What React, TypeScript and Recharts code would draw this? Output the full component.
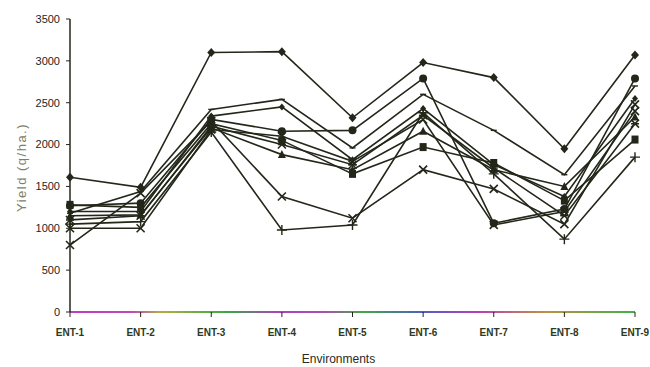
import React from "react";
import { LineChart, Line, XAxis, YAxis, Label } from "recharts";

const categories = ["ENT-1", "ENT-2", "ENT-3", "ENT-4", "ENT-5", "ENT-6", "ENT-7", "ENT-8", "ENT-9"];
const yTicks = [0, 500, 1000, 1500, 2000, 2500, 3000, 3500];

const diamondLine = [1610, 1490, 3100, 3110, 2320, 2980, 2800, 1950, 3070];
const circleLine = [1270, 1300, 2300, 2160, 2170, 2790, 1060, 1230, 2790];
const dashLine = [1180, 1440, 2420, 2540, 1960, 2600, 2170, 1640, 2700];
const smallDiamondLine = [1200, 1200, 2340, 2450, 1820, 2430, 1760, 1380, 2550];
const squareLine = [1280, 1250, 2250, 2050, 1650, 1970, 1780, 1330, 2060];
const triangleLine = [1150, 1160, 2200, 1880, 1700, 2160, 1700, 1500, 2330];
const crossLine = [800, 1420, 2280, 1380, 1120, 1700, 1470, 1050, 2480];
const plusLine = [1050, 1080, 2150, 980, 1040, 2380, 1650, 870, 1850];
const starLine = [1100, 1150, 2220, 2000, 1760, 2350, 1720, 1150, 2250];
const asteriskLine = [1000, 1000, 2180, 2100, 1800, 2300, 1040, 1200, 2400];

const series = [
  { key: "s1", values: diamondLine, shape: "diamond" },
  { key: "s2", values: circleLine, shape: "circle" },
  { key: "s3", values: dashLine, shape: "dash" },
  { key: "s4", values: smallDiamondLine, shape: "smallDiamond" },
  { key: "s5", values: squareLine, shape: "square" },
  { key: "s6", values: triangleLine, shape: "triangle" },
  { key: "s7", values: crossLine, shape: "cross" },
  { key: "s8", values: plusLine, shape: "plus" },
  { key: "s9", values: starLine, shape: "star" },
  { key: "s10", values: asteriskLine, shape: "cross" },
];

const data = categories.map((ent, i) => {
  const row: any = { ent };
  series.forEach((s) => (row[s.key] = s.values[i]));
  return row;
});

const INK = "#232719";

const makeDot = (shape: string) => (props: any) => {
  const { cx, cy, index } = props;
  const k = `${shape}-${index}`;
  if (cx == null || cy == null) return <g key={k} />;
  switch (shape) {
    case "diamond":
      return <path key={k} d={`M${cx},${cy - 4.5}L${cx + 4},${cy}L${cx},${cy + 4.5}L${cx - 4},${cy}Z`} fill={INK} />;
    case "smallDiamond":
      return <path key={k} d={`M${cx},${cy - 3.5}L${cx + 3},${cy}L${cx},${cy + 3.5}L${cx - 3},${cy}Z`} fill={INK} />;
    case "circle":
      return <circle key={k} cx={cx} cy={cy} r={4} fill={INK} />;
    case "square":
      return <rect key={k} x={cx - 3.5} y={cy - 4} width={7} height={8} fill={INK} />;
    case "triangle":
      return <path key={k} d={`M${cx},${cy - 4.5}L${cx + 4},${cy + 3.5}L${cx - 4},${cy + 3.5}Z`} fill={INK} />;
    case "cross":
      return (
        <path key={k} d={`M${cx - 4},${cy - 4}L${cx + 4},${cy + 4}M${cx + 4},${cy - 4}L${cx - 4},${cy + 4}`} stroke={INK} strokeWidth={1.6} />
      );
    case "plus":
      return (
        <path key={k} d={`M${cx - 5},${cy}L${cx + 5},${cy}M${cx},${cy - 5}L${cx},${cy + 5}`} stroke={INK} strokeWidth={1.4} />
      );
    case "star":
      return (
        <path
          key={k}
          d={`M${cx - 4},${cy - 4}L${cx + 4},${cy + 4}M${cx + 4},${cy - 4}L${cx - 4},${cy + 4}M${cx - 4},${cy}L${cx + 4},${cy}`}
          stroke={INK}
          strokeWidth={1.5}
        />
      );
    default:
      return <path key={k} d={`M${cx - 3},${cy}L${cx + 3},${cy}`} stroke={INK} strokeWidth={1.4} />;
  }
};

const App = () => {
  return (
    <div style={{ position: "absolute", left: 0, top: 0, width: 650, height: 367, background: "#fff" }}>
      <LineChart width={650} height={367} data={data} margin={{ top: 19, right: 15, bottom: 5, left: 0 }}>
        <defs>
          <linearGradient id="baseGrad" gradientUnits="userSpaceOnUse" x1="70" y1="0" x2="635" y2="0">
            <stop offset="0" stopColor="#c23cc0" />
            <stop offset="0.11" stopColor="#c048b8" />
            <stop offset="0.16" stopColor="#b0b040" />
            <stop offset="0.28" stopColor="#38a844" />
            <stop offset="0.37" stopColor="#b040c0" />
            <stop offset="0.45" stopColor="#a850b0" />
            <stop offset="0.52" stopColor="#40a848" />
            <stop offset="0.62" stopColor="#5060c0" />
            <stop offset="0.72" stopColor="#b83cc0" />
            <stop offset="0.84" stopColor="#c09040" />
            <stop offset="1" stopColor="#40b048" />
          </linearGradient>
        </defs>
        <XAxis
          dataKey="ent"
          height={50}
          interval={0}
          tickSize={5}
          tickMargin={12}
          axisLine={{ stroke: "url(#baseGrad)", strokeWidth: 2 }}
          tickLine={{ stroke: INK }}
          tick={{ fontFamily: "'Liberation Sans Narrow', 'Liberation Sans', Arial", fontSize: 10, fontWeight: 700, fill: "#2d3a22" }}
        >
          <Label
            content={(p: any) => {
              const vb = p.viewBox;
              return (
                <text
                  x={vb.x + vb.width / 2 - 14}
                  y={vb.y + vb.height + 1}
                  textAnchor="middle"
                  fontFamily="'Liberation Sans', Arial"
                  fontSize={12}
                  fill="#2a2a22"
                >
                  Environments
                </text>
              );
            }}
          />
        </XAxis>
        <YAxis
          width={70}
          domain={[0, 3500]}
          ticks={yTicks}
          interval={0}
          tickSize={4}
          tickMargin={6}
          axisLine={{ stroke: INK, strokeWidth: 1.5 }}
          tickLine={{ stroke: INK }}
          tick={{ fontFamily: "'Liberation Sans', Arial", fontSize: 11, fill: "#1e1e1e" }}
        >
          <Label
            content={(p: any) => {
              const vb = p.viewBox;
              const x = vb.x + 21;
              const y = vb.y + vb.height / 2 + 2;
              return (
                <text
                  x={x}
                  y={y}
                  transform={`rotate(-90 ${x} ${y})`}
                  textAnchor="middle"
                  dominantBaseline="central"
                  fontFamily="'Liberation Sans', Arial"
                  fontSize={13}
                  letterSpacing={1.5}
                  fill="#7d8068"
                >
                  Yield (q/ha.)
                </text>
              );
            }}
          />
        </YAxis>
        {series.map((s) => (
          <Line
            key={s.key}
            dataKey={s.key}
            type="linear"
            stroke={INK}
            strokeWidth={1.6}
            dot={makeDot(s.shape)}
            activeDot={false}
            isAnimationActive={false}
          />
        ))}
      </LineChart>
    </div>
  );
};

export default App;
